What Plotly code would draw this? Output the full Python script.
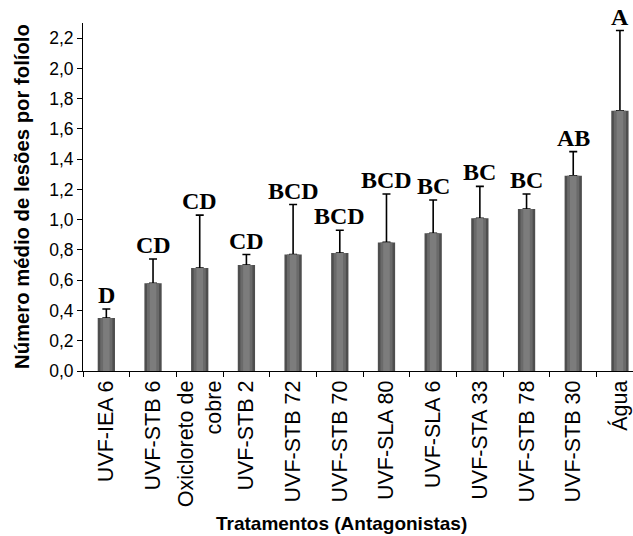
import plotly.graph_objects as go

categories = ["UVF-IEA 6", "UVF-STB 6", "Oxicloreto de<br>cobre", "UVF-STB 2", "UVF-STB 72",
              "UVF-STB 70", "UVF-SLA 80", "UVF-SLA 6", "UVF-STA 33", "UVF-STB 78",
              "UVF-STB 30", "Água"]
means = [0.35, 0.58, 0.68, 0.70, 0.77, 0.78, 0.85, 0.91, 1.01, 1.07, 1.29, 1.72]
errors = [0.06, 0.16, 0.35, 0.07, 0.33, 0.15, 0.32, 0.22, 0.21, 0.10, 0.16, 0.53]
letters = ["D", "CD", "CD", "CD", "BCD", "BCD", "BCD", "BC", "BC", "BC", "AB", "A"]
y_ticks = [0.0, 0.2, 0.4, 0.6, 0.8, 1.0, 1.2, 1.4, 1.6, 1.8, 2.0, 2.2]

fig = go.Figure()
# base bar (dark edges) with error bars
fig.add_trace(go.Bar(
    x=categories, y=means, width=0.37,
    marker=dict(color="#4e4e4e", line=dict(width=0)),
    error_y=dict(type="data", array=errors, arrayminus=[0]*len(errors), symmetric=False,
                 color="black", thickness=1.6, width=4),
    showlegend=False, hoverinfo="skip",
))
# lighter shading layers to mimic gradient
fig.add_trace(go.Bar(x=categories, y=means, width=0.26,
                     marker=dict(color="#6a6a6a", line=dict(width=0)),
                     showlegend=False, hoverinfo="skip"))
fig.add_trace(go.Bar(x=categories, y=means, width=0.14,
                     marker=dict(color="#7c7c7c", line=dict(width=0)),
                     showlegend=False, hoverinfo="skip"))

for c, m, e, l in zip(categories, means, errors, letters):
    fig.add_annotation(x=c, y=m + e, text=f"<b>{l}</b>", showarrow=False,
                       yanchor="bottom", yshift=-1,
                       font=dict(family="Liberation Serif", size=24, color="black"))

fig.add_annotation(xref="paper", yref="paper", x=0, y=0.5, xshift=-61,
                   text="<b>Número médio de lesões por folíolo</b>", textangle=-90,
                   showarrow=False, xanchor="center", yanchor="middle",
                   font=dict(family="Liberation Sans", size=20.3, color="black"))
fig.add_annotation(xref="paper", yref="paper", x=(341.5 - 83) / 550, y=0, yshift=-152,
                   text="<b>Tratamentos (Antagonistas)</b>",
                   showarrow=False, xanchor="center", yanchor="middle",
                   font=dict(family="Liberation Sans", size=19, color="black"))

fig.update_layout(
    width=633, height=536,
    margin=dict(l=83, r=0, t=23, b=165),
    paper_bgcolor="white", plot_bgcolor="white",
    barmode="overlay",
    separators=",.",
    font=dict(family="Liberation Sans", color="black"),
)
fig.update_xaxes(
    type="category", range=[-0.5, 11.28],
    showline=True, linecolor="black", linewidth=1,
    ticks="outside", tickson="boundaries", ticklen=5, tickcolor="black",
    tickangle=-90, tickfont=dict(size=21.5, color="black"),
    showgrid=False,
)
fig.update_yaxes(
    range=[0, 2.3], tickvals=y_ticks, tickformat=".1f",
    showline=True, linecolor="black", linewidth=1,
    ticks="outside", ticklen=5, tickcolor="black",
    tickfont=dict(size=17.5, color="black"),
    showgrid=False, zeroline=False,
)

fig.write_html("out.html")
